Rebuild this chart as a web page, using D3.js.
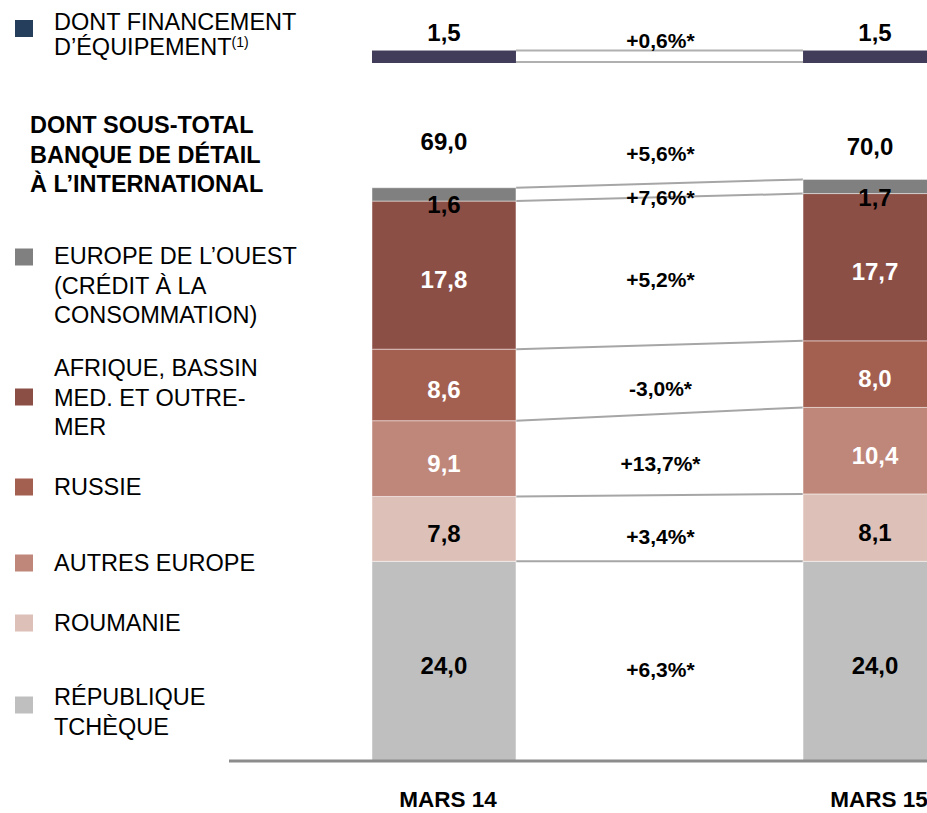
<!DOCTYPE html>
<html>
<head>
<meta charset="utf-8">
<script src="https://cdn.jsdelivr.net/npm/d3@7"></script>
<style>
  body { margin: 0; background: #fff; }
  text { font-family: "Liberation Sans", Arial, sans-serif; }
</style>
</head>
<body>
<div id="chart"></div>
<script>
// data
const periods = ["MARS 14", "MARS 15"];
const segments = ["RÉPUBLIQUE TCHÈQUE", "ROUMANIE", "AUTRES EUROPE", "RUSSIE",
  "AFRIQUE, BASSIN MED. ET OUTRE-MER", "EUROPE DE L’OUEST (CRÉDIT À LA CONSOMMATION)"];
const mars14 = [24.0, 7.8, 9.1, 8.6, 17.8, 1.6];
const mars15 = [24.0, 8.1, 10.4, 8.0, 17.7, 1.7];
const changes = ["+6,3%*", "+3,4%*", "+13,7%*", "-3,0%*", "+5,2%*", "+7,6%*"];
const totals = [69.0, 70.0];
const totalChange = "+5,6%*";
const equipement = [1.5, 1.5];
const equipementChange = "+0,6%*";

const colors = ["#bfbfbf", "#ddc0b7", "#bf867a", "#a35f50", "#8c4f45", "#808080"];
const valueColors = ["#000", "#000", "#fff", "#fff", "#fff", "#000"];
const fmt = v => d3.format(".1f")(v).replace(".", ",");

const width = 927, height = 813;
const svg = d3.select("#chart").append("svg")
  .attr("width", width)
  .attr("height", height);

// scales
const x = d3.scaleBand()
  .domain(periods)
  .range([372, 947])
  .paddingInner(0.666)
  .paddingOuter(0);

const baseY = 761;
const y = d3.scaleLinear()
  .domain([0, 70])
  .range([baseY, baseY - 70 * 8.32]);

// stacked data
const series = [mars14, mars15];
const stacks = series.map((vals, i) => {
  let acc = 0;
  return vals.map((v, j) => {
    const d = { period: periods[i], idx: j, value: v, y0: acc, y1: acc + v };
    acc += v;
    return d;
  });
});

// connector lines between the bars
const connectors = svg.append("g");
segments.forEach((s, j) => {
  connectors.append("line")
    .attr("x1", x(periods[0]) + x.bandwidth())
    .attr("x2", x(periods[1]))
    .attr("y1", y(stacks[0][j].y1))
    .attr("y2", y(stacks[1][j].y1))
    .attr("stroke", "#a6a6a6")
    .attr("stroke-width", 2);
});

// equipement bar at the top (separate)
const eqBottom = 63;
const eqH = v => y(0) - y(v);
[0, 1].forEach(k => {
  connectors.append("line")
    .attr("x1", x(periods[0]) + x.bandwidth())
    .attr("x2", x(periods[1]))
    .attr("y1", k ? eqBottom - eqH(equipement[0]) : eqBottom - 1)
    .attr("y2", k ? eqBottom - eqH(equipement[1]) : eqBottom - 1)
    .attr("stroke", "#b0b0b0")
    .attr("stroke-width", 2);
});

svg.append("g").selectAll("rect")
  .data(equipement)
  .join("rect")
  .attr("x", (d, i) => x(periods[i]))
  .attr("y", d => eqBottom - eqH(d))
  .attr("width", x.bandwidth())
  .attr("height", d => eqH(d))
  .attr("fill", "#403c5a");

// stacked bars
const bars = svg.append("g");
stacks.forEach(stack => {
  bars.selectAll(null)
    .data(stack)
    .join("rect")
    .attr("x", d => x(d.period))
    .attr("y", d => y(d.y1))
    .attr("width", x.bandwidth())
    .attr("height", d => y(d.y0) - y(d.y1))
    .attr("fill", d => colors[d.idx])
    .attr("stroke", "rgba(255,255,255,0.45)")
    .attr("stroke-width", 1);
});

// baseline
svg.append("line")
  .attr("x1", 229).attr("x2", width)
  .attr("y1", baseY).attr("y2", baseY)
  .attr("stroke", "#8c8c8c")
  .attr("stroke-width", 3);

// value labels inside the bars
stacks.forEach(stack => {
  bars.selectAll(null)
    .data(stack)
    .join("text")
    .attr("x", d => x(d.period) + x.bandwidth() / 2)
    .attr("y", d => {
      const mid = (y(d.y0) + y(d.y1)) / 2;
      return mid + (y(d.y0) - y(d.y1) < 20 ? 19 : 13);
    })
    .attr("text-anchor", "middle")
    .attr("font-size", 24)
    .attr("font-weight", "bold")
    .attr("fill", d => valueColors[d.idx])
    .text(d => fmt(d.value));
});

// totals and equipement values
svg.append("g").selectAll("text")
  .data(totals)
  .join("text")
  .attr("x", (d, i) => x(periods[i]) + x.bandwidth() / 2 - (i ? 5 : 0))
  .attr("y", (d, i) => i ? 155 : 150)
  .attr("text-anchor", "middle")
  .attr("font-size", 24)
  .attr("font-weight", "bold")
  .text(fmt);

svg.append("g").selectAll("text")
  .data(equipement)
  .join("text")
  .attr("x", (d, i) => x(periods[i]) + x.bandwidth() / 2)
  .attr("y", 41)
  .attr("text-anchor", "middle")
  .attr("font-size", 24)
  .attr("font-weight", "bold")
  .text(fmt);

// change labels in the gap
const gapX = (x(periods[0]) + x.bandwidth() + x(periods[1])) / 2 + 1;
svg.append("g").selectAll("text")
  .data(changes)
  .join("text")
  .attr("x", gapX)
  .attr("y", (d, j) => {
    const m0 = (y(stacks[0][j].y0) + y(stacks[0][j].y1)) / 2;
    const m1 = (y(stacks[1][j].y0) + y(stacks[1][j].y1)) / 2;
    return (m0 + m1) / 2 + (j === 5 ? 15 : 16);
  })
  .attr("text-anchor", "middle")
  .attr("font-size", 21)
  .attr("font-weight", "bold")
  .text(d => d);

svg.append("text")
  .attr("x", gapX).attr("y", 161)
  .attr("text-anchor", "middle")
  .attr("font-size", 21)
  .attr("font-weight", "bold")
  .text(totalChange);

svg.append("text")
  .attr("x", gapX).attr("y", 48)
  .attr("text-anchor", "middle")
  .attr("font-size", 21)
  .attr("font-weight", "bold")
  .text(equipementChange);

// x labels
svg.append("g").selectAll("text")
  .data(periods)
  .join("text")
  .attr("x", d => x(d) + x.bandwidth() / 2 + 4)
  .attr("y", 807)
  .attr("text-anchor", "middle")
  .attr("font-size", 22.5)
  .attr("font-weight", "bold")
  .text(d => d);

// legend
const legendFont = 23.5, lineH = 29.5;
const legend = svg.append("g");

function legendItem(lines, color, y0, sq, bold) {
  if (color) {
    legend.append("rect")
      .attr("x", 15).attr("y", sq - 8.5)
      .attr("width", 18).attr("height", 17)
      .attr("fill", color);
  }
  lines.forEach((l, i) => {
    legend.append("text")
      .attr("x", bold ? 30 : 54)
      .attr("y", y0 + i * lineH + 8)
      .attr("font-size", legendFont)
      .attr("font-weight", bold ? "bold" : "normal")
      .attr("fill", "#000")
      .text(l);
  });
}

// equipement legend with superscript
legend.append("rect")
  .attr("x", 15).attr("y", 20)
  .attr("width", 18).attr("height", 17)
  .attr("fill", "#253e5c");
legend.append("text")
  .attr("x", 54).attr("y", 30)
  .attr("font-size", legendFont)
  .text("DONT FINANCEMENT");
const eqT = legend.append("text")
  .attr("x", 54).attr("y", 55)
  .attr("font-size", legendFont)
  .text("D’ÉQUIPEMENT");
eqT.append("tspan")
  .attr("font-size", 14)
  .attr("dy", -8)
  .text("(1)");

legendItem(["DONT SOUS-TOTAL", "BANQUE DE DÉTAIL", "À L’INTERNATIONAL"], null, 125, 0, true);
legendItem(["EUROPE DE L’OUEST", "(CRÉDIT À LA", "CONSOMMATION)"], colors[5], 256, 257);
legendItem(["AFRIQUE, BASSIN", "MED. ET OUTRE-", "MER"], colors[4], 368, 397);
legendItem(["RUSSIE"], colors[3], 487, 487);
legendItem(["AUTRES EUROPE"], colors[2], 563, 563);
legendItem(["ROUMANIE"], colors[1], 623, 623);
legendItem(["RÉPUBLIQUE", "TCHÈQUE"], colors[0], 697, 705);
</script>
</body>
</html>
